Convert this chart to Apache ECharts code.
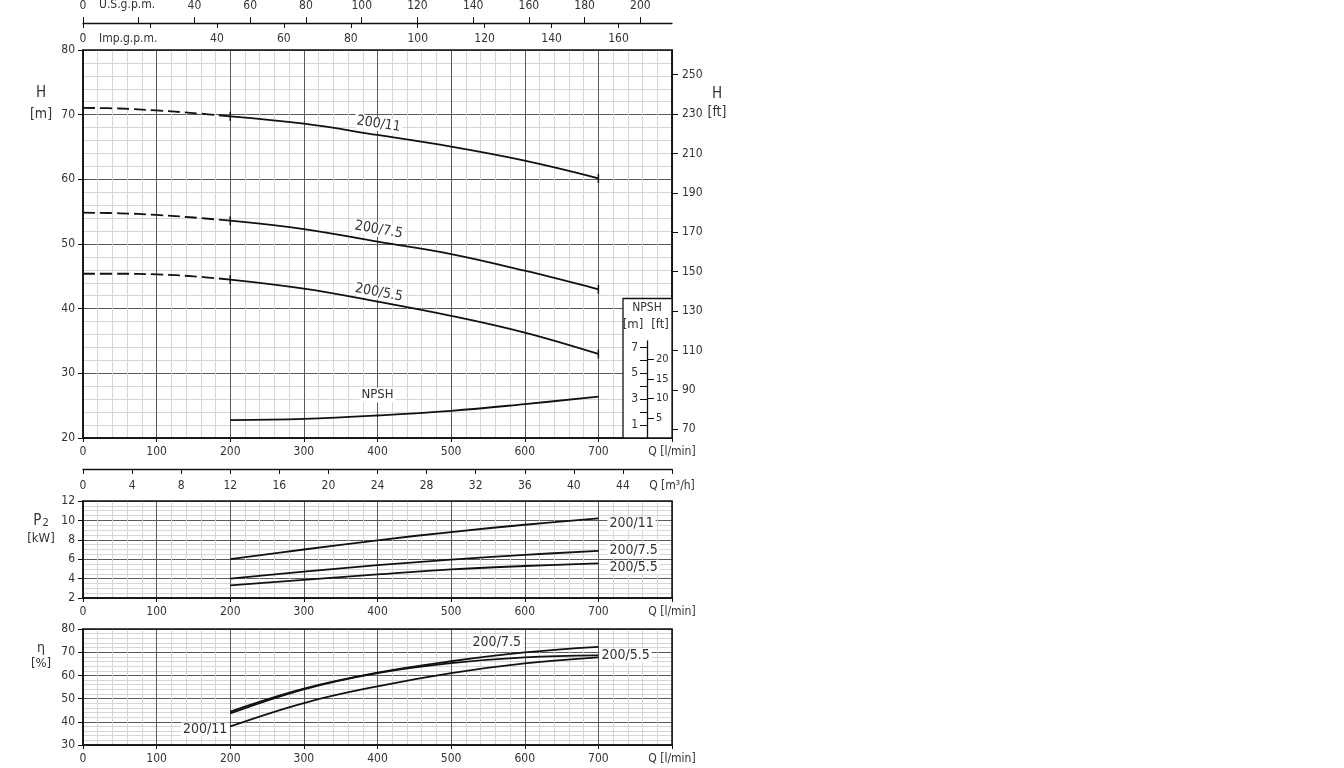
<!DOCTYPE html>
<html><head><meta charset="utf-8">
<script src="https://cdn.jsdelivr.net/npm/echarts@6/dist/echarts.min.js"></script>
<style>html,body{margin:0;padding:0;background:#fff}#c{width:1344px;height:768px}</style>
</head><body><div id="c"></div>
<script>
// ---- data ----
const qDash = [0, 50, 100, 150, 200];                 // l/min, dashed part
const qSolid = [200, 300, 400, 500, 600, 700];        // l/min, solid part
const h11Dash = [71.05, 70.95, 70.65, 70.25, 69.75];
const h11 = [69.75, 68.6, 66.86, 65.05, 62.88, 60.15];
const h75Dash = [54.85, 54.75, 54.5, 54.1, 53.6];
const h75 = [53.6, 52.3, 50.36, 48.45, 45.87, 43.0];
const h55Dash = [45.4, 45.4, 45.3, 45.0, 44.5];
const h55 = [44.5, 43.1, 41.1, 38.9, 36.3, 33.0];
const npsh = [1.38, 1.48, 1.74, 2.1, 2.62, 3.2];      // m
const p11 = [6.0, 7.0, 7.95, 8.8, 9.55, 10.2];        // kW
const p75 = [4.0, 4.72, 5.38, 5.95, 6.45, 6.85];
const p55 = [3.3, 3.87, 4.43, 4.95, 5.3, 5.57];
const eta75 = [44.4, 54.3, 61.2, 66.1, 69.9, 72.3];   // %
const eta55 = [43.6, 54.0, 61.0, 65.3, 67.8, 68.6];
const eta11 = [38.0, 48.1, 55.3, 61.0, 65.2, 67.8];
const usTicks = [0, 20, 40, 60, 80, 100, 120, 140, 160, 180, 200];
const usLabels = [0, 40, 60, 80, 100, 120, 140, 160, 180, 200];
const impTicks = [0, 20, 40, 60, 80, 100, 120, 140, 160];
const impLabels = [0, 40, 60, 80, 100, 120, 140, 160];
const ftTicks = [70, 90, 110, 130, 150, 170, 190, 210, 230, 250];
const npshMTicks = [1, 2, 3, 4, 5, 6, 7];
const npshMLabels = [1, 3, 5, 7];
const npshFtTicks = [5, 10, 15, 20];

// unit conversions
const M2FT = 3.28084, USGAL = 3.78541, IMPGAL = 4.54609;
const QMAX = 800;

const FONT = "'Liberation Sans Narrow','DejaVu Sans Condensed','Roboto Condensed',sans-serif";
const TXT = '#333', LINE = '#111', MAJ = '#5a5a5a', MIN = '#d6d6d6';

function lbl(extra) {
  return Object.assign({color: TXT, fontFamily: FONT, fontSize: 12}, extra || {});
}
function qAxis(grid, lastName) {
  return {
    type: 'value', gridIndex: grid, min: 0, max: QMAX, interval: 100,
    axisLine: {show: true, lineStyle: {color: LINE, width: 1.5}},
    axisTick: {show: true, length: 4, lineStyle: {color: LINE}},
    axisLabel: lbl({margin: 8, formatter: v => v === QMAX ? lastName : String(v)}),
    splitLine: {show: true, lineStyle: {color: MAJ, width: 1}},
    minorTick: {show: false, splitNumber: 5},
    minorSplitLine: {show: true, lineStyle: {color: MIN, width: 1}}
  };
}
function vAxis(grid, min, max, interval, minorSplit) {
  return {
    type: 'value', gridIndex: grid, min: min, max: max, interval: interval, position: 'left',
    axisLine: {show: true, lineStyle: {color: LINE, width: 1.5}},
    axisTick: {show: true, length: 5, lineStyle: {color: LINE}},
    axisLabel: lbl({margin: 8}),
    splitLine: {show: true, lineStyle: {color: MAJ, width: 1}},
    minorTick: {show: false, splitNumber: minorSplit},
    minorSplitLine: {show: true, lineStyle: {color: MIN, width: 1}}
  };
}
const hidden = g => ({type: 'value', gridIndex: g, show: false, min: 0, max: 1});

function pts(qs, vs, labelAt, labelCfg) {
  return qs.map((q, i) => {
    const d = {value: [q, vs[i]]};
    if (labelAt !== undefined && q === labelAt) d.label = labelCfg;
    return d;
  });
}
const lineStyle = {color: LINE, width: 1.8};

function hDash(vals) {
  return {type: 'line', xAxisIndex: 0, yAxisIndex: 0, data: pts(qDash, vals), smooth: 0.4,
    symbol: 'none', lineStyle: {color: LINE, width: 1.8, type: [12, 5]}, z: 3};
}
function hSolid(vals, name, rot, dist) {
  const n = qSolid.length;
  return {type: 'line', xAxisIndex: 0, yAxisIndex: 0, smooth: 0.4, lineStyle: lineStyle, z: 3,
    itemStyle: {color: LINE},
    symbol: (v, p) => (p.dataIndex === 0 || p.dataIndex === n - 1) ? 'rect' : (qSolid[p.dataIndex] === 400 ? 'circle' : 'none'),
    symbolSize: (v, p) => (p.dataIndex === 0 || p.dataIndex === n - 1) ? [1.5, 9] : 0,
    data: pts(qSolid, vals, 400, lbl({show: true, formatter: name, position: 'top', distance: dist,
      rotate: rot, fontSize: 14, backgroundColor: '#fff', padding: [0, 2]}))};
}
function simple(x, y, vals, extra) {
  return Object.assign({type: 'line', xAxisIndex: x, yAxisIndex: y, smooth: 0.4, lineStyle: lineStyle,
    symbol: 'none', z: 3, data: pts(qSolid, vals)}, extra || {});
}

const option = {
  animation: false,
  backgroundColor: '#fff',
  textStyle: {fontFamily: FONT},
  grid: [
    {left: 83, top: 50, width: 589, height: 388, show: true, borderColor: LINE, borderWidth: 1.5, z: 1},
    {left: 83, top: 22, width: 589, height: 1},
    {left: 647, top: 341, width: 1, height: 97},
    {left: 83, top: 468, width: 589, height: 1},
    {left: 83, top: 501, width: 589, height: 97, show: true, borderColor: LINE, borderWidth: 1.5, z: 1},
    {left: 83, top: 629, width: 589, height: 116, show: true, borderColor: LINE, borderWidth: 1.5, z: 1}
  ],
  xAxis: [
    qAxis(0, 'Q [l/min]'),
    {type: 'value', gridIndex: 1, position: 'top', min: 0, max: QMAX / USGAL,
      axisLine: {show: true, lineStyle: {color: LINE, width: 1.3}},
      axisTick: {show: true, length: 6, customValues: usTicks, lineStyle: {color: LINE}},
      axisLabel: lbl({margin: 10, customValues: usLabels}),
      splitLine: {show: false}},
    {type: 'value', gridIndex: 1, position: 'bottom', min: 0, max: QMAX / IMPGAL,
      axisLine: {show: false},
      axisTick: {show: true, length: 5, customValues: impTicks, lineStyle: {color: LINE}},
      axisLabel: lbl({margin: 10, customValues: impLabels}),
      splitLine: {show: false}},
    hidden(2),
    {type: 'value', gridIndex: 3, position: 'bottom', min: 0, max: QMAX * 60 / 1000, interval: 4,
      axisLine: {show: true, lineStyle: {color: LINE, width: 1.3}},
      axisTick: {show: true, length: 5, lineStyle: {color: LINE}},
      axisLabel: lbl({margin: 11, formatter: v => v === 48 ? 'Q [m³/h]' : String(v)}),
      splitLine: {show: false}},
    qAxis(4, 'Q [l/min]'),
    qAxis(5, 'Q [l/min]')
  ],
  yAxis: [
    vAxis(0, 20, 80, 10, 5),
    {type: 'value', gridIndex: 0, position: 'right', min: 20 * M2FT, max: 80 * M2FT,
      axisLine: {show: true, lineStyle: {color: LINE, width: 1.5}},
      axisTick: {show: true, length: 6, customValues: ftTicks, lineStyle: {color: LINE}},
      axisLabel: lbl({margin: 10, customValues: ftTicks}),
      splitLine: {show: false}},
    {type: 'value', gridIndex: 0, show: false, min: 0, max: 30},
    hidden(1),
    {type: 'value', gridIndex: 2, position: 'left', min: 0, max: 7.5, z: 5,
      axisLine: {show: true, lineStyle: {color: LINE, width: 1.3}},
      axisTick: {show: true, length: 7, customValues: npshMTicks, lineStyle: {color: LINE}},
      axisLabel: lbl({margin: 9, customValues: npshMLabels}),
      splitLine: {show: false}},
    {type: 'value', gridIndex: 2, position: 'right', offset: -1, min: 0, max: 7.5 * M2FT, z: 5,
      axisLine: {show: false},
      axisTick: {show: true, length: 7, customValues: npshFtTicks, lineStyle: {color: LINE}},
      axisLabel: lbl({margin: 9, customValues: npshFtTicks, fontSize: 11}),
      splitLine: {show: false}},
    hidden(3),
    vAxis(4, 2, 12, 2, 4),
    vAxis(5, 30, 80, 10, 5)
  ],
  series: [
    hDash(h11Dash), hDash(h75Dash), hDash(h55Dash),
    hSolid(h11, '200/11', -9, 4),
    hSolid(h75, '200/7.5', -10, 5),
    hSolid(h55, '200/5.5', -11, 2),
    {type: 'line', xAxisIndex: 0, yAxisIndex: 2, smooth: 0.4, lineStyle: lineStyle, z: 3,
      symbol: (v, p) => qSolid[p.dataIndex] === 400 ? 'circle' : 'none', symbolSize: 0,
      data: pts(qSolid, npsh, 400, lbl({show: true, formatter: 'NPSH', position: 'top', distance: 13,
        fontSize: 13, backgroundColor: '#fff', padding: [1, 2]}))},
    simple(5, 7, p11, {endLabel: lbl({show: true, formatter: '200/11', distance: 9, offset: [0, 5], fontSize: 14, backgroundColor: '#fff', padding: [0, 2]})}),
    simple(5, 7, p75, {endLabel: lbl({show: true, formatter: '200/7.5', distance: 9, offset: [0, -1], fontSize: 14, backgroundColor: '#fff', padding: [0, 2]})}),
    simple(5, 7, p55, {endLabel: lbl({show: true, formatter: '200/5.5', distance: 9, offset: [0, 4], fontSize: 14, backgroundColor: '#fff', padding: [0, 2]})}),
    Object.assign(simple(6, 8, eta75), {
      symbol: (v, p) => qSolid[p.dataIndex] === 600 ? 'circle' : 'none', symbolSize: 0,
      data: pts(qSolid, eta75, 600, lbl({show: true, formatter: '200/7.5', position: 'top', distance: 3,
        offset: [-28, 0], fontSize: 14, backgroundColor: '#fff', padding: [0, 2]}))}),
    simple(6, 8, eta55, {endLabel: lbl({show: true, formatter: '200/5.5', distance: 1, offset: [0, 0], fontSize: 14, backgroundColor: '#fff', padding: [0, 2]})}),
    Object.assign(simple(6, 8, eta11), {
      symbol: (v, p) => p.dataIndex === 0 ? 'circle' : 'none', symbolSize: 0,
      data: pts(qSolid, eta11, 200, lbl({show: true, formatter: '200/11', position: 'left', distance: 1,
        offset: [0, 3], fontSize: 14, backgroundColor: '#fff', padding: [0, 2]}))})
  ],
  graphic: [
    {type: 'rect', z: 4, shape: {x: 623, y: 298.5, width: 49, height: 139.5},
      style: {fill: '#fff', stroke: LINE, lineWidth: 1.3}},
    {type: 'text', z: 6, x: 647, y: 308, style: {text: 'NPSH', fill: TXT, font: '12px ' + FONT, align: 'center', verticalAlign: 'middle'}},
    {type: 'text', z: 6, x: 633, y: 325, style: {text: '[m]', fill: TXT, font: '13px ' + FONT, align: 'center', verticalAlign: 'middle'}},
    {type: 'text', z: 6, x: 660, y: 325, style: {text: '[ft]', fill: TXT, font: '13px ' + FONT, align: 'center', verticalAlign: 'middle'}},
    {type: 'text', x: 99, y: 5, style: {text: 'U.S.g.p.m.', fill: TXT, font: '12px ' + FONT, align: 'left', verticalAlign: 'middle'}},
    {type: 'text', x: 99, y: 39, style: {text: 'Imp.g.p.m.', fill: TXT, font: '12px ' + FONT, align: 'left', verticalAlign: 'middle'}},
    {type: 'text', x: 41, y: 93, style: {text: 'H', fill: TXT, font: '15px ' + FONT, align: 'center', verticalAlign: 'middle'}},
    {type: 'text', x: 41, y: 114, style: {text: '[m]', fill: TXT, font: '14px ' + FONT, align: 'center', verticalAlign: 'middle'}},
    {type: 'text', x: 717, y: 94, style: {text: 'H', fill: TXT, font: '15px ' + FONT, align: 'center', verticalAlign: 'middle'}},
    {type: 'text', x: 717, y: 112, style: {text: '[ft]', fill: TXT, font: '14px ' + FONT, align: 'center', verticalAlign: 'middle'}},
    {type: 'text', x: 41, y: 521, style: {text: '{p|P}{s|2}', fill: TXT, align: 'center', verticalAlign: 'middle',
      rich: {p: {fontSize: 15, fontFamily: FONT, fill: TXT}, s: {fontSize: 11, fontFamily: FONT, fill: TXT, padding: [5, 0, 0, 1]}}}},
    {type: 'text', x: 41, y: 539, style: {text: '[kW]', fill: TXT, font: '13px ' + FONT, align: 'center', verticalAlign: 'middle'}},
    {type: 'text', x: 41, y: 648, style: {text: 'η', fill: TXT, font: '14px ' + FONT, align: 'center', verticalAlign: 'middle'}},
    {type: 'text', x: 41, y: 664, style: {text: '[%]', fill: TXT, font: '13px ' + FONT, align: 'center', verticalAlign: 'middle'}}
  ]
};
const chart = echarts.init(document.getElementById('c'), null, {renderer: 'canvas'});
chart.setOption(option);
</script></body></html>
